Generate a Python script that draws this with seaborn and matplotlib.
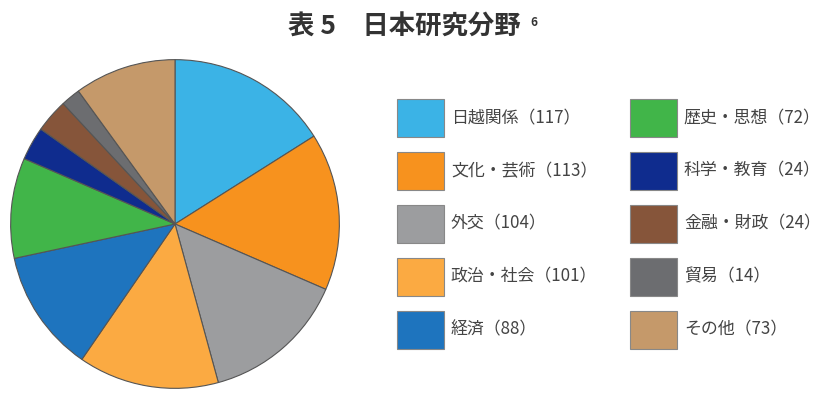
import matplotlib
matplotlib.use("Agg")
import matplotlib.pyplot as plt
import seaborn as sns
from matplotlib.patches import Patch

categories = ["日越関係", "文化・芸術", "外交", "政治・社会", "経済",
              "歴史・思想", "科学・教育", "金融・財政", "貿易", "その他"]
counts = [117, 113, 104, 101, 88, 72, 24, 24, 14, 73]
colors = ["#3BB3E6", "#F7921E", "#9C9D9F", "#FBAA42", "#1E74BE",
          "#41B549", "#0F2C8E", "#86553A", "#6C6D70", "#C5996A"]
title_main = "表 5　日本研究分野"
title_sup = "6"

sns.set_theme(style="white")
plt.rcParams["font.family"] = ["Noto Sans CJK JP", "DejaVu Sans"]

fig = plt.figure(figsize=(8.2, 4.05), dpi=100)
fig.patch.set_facecolor("white")

ax = fig.add_axes([9 / 820, 15 / 405, 332 / 820, 332 / 405])
wedges, _ = ax.pie(counts, colors=colors, startangle=90, counterclock=False,
                   radius=1.0,
                   wedgeprops=dict(edgecolor="#555555", linewidth=0.8))
ax.set_xlim(-1.01, 1.01)
ax.set_ylim(-1.01, 1.01)
ax.set_aspect("equal")
ax.axis("off")

handles = [Patch(facecolor=c, edgecolor="#888888", linewidth=0.8) for c in colors]
labels = [f"{c}（{n}）" for c, n in zip(categories, counts)]
fs = 12.2
leg_kw = dict(loc="upper left", frameon=False, fontsize=fs,
              handlelength=2.77, handleheight=3.07,
              labelspacing=0.885, handletextpad=0.41,
              borderpad=0, borderaxespad=0, labelcolor="#444444")
half = 5
fig.legend(handles[:half], labels[:half],
           bbox_to_anchor=(397 / 820, 1 - 99 / 405), **leg_kw)
fig.legend(handles[half:], labels[half:],
           bbox_to_anchor=(630 / 820, 1 - 99 / 405), **leg_kw)

fig.text(404 / 820, 1 - 27 / 405, title_main, ha="center", va="center",
         fontsize=19, fontweight="bold", color="#333333")
fig.text(530 / 820, 1 - 22 / 405, title_sup, ha="left", va="center",
         fontsize=8.5, fontweight="bold", color="#333333")

fig.savefig("out.png", dpi=100)
